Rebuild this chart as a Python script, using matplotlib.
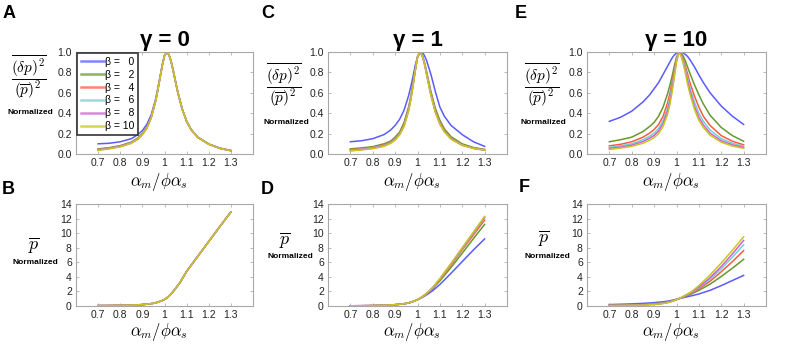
import matplotlib
matplotlib.use('Agg')
import matplotlib.pyplot as plt
import numpy as np

plt.rcParams['font.family'] = ['Liberation Sans', 'DejaVu Sans']
plt.rcParams['mathtext.fontset'] = 'cm'

##### data #####
betas = [0, 2, 4, 6, 8, 10]
colors = ['#5B5BFF', '#66992E', '#FF5A3C', '#6FD3D3', '#D25ED2', '#C9C51E']

# top row: normalized fluctuation spectrum
x_top = [0.70, 0.75, 0.80, 0.85, 0.88, 0.90, 0.92, 0.94, 0.96, 0.97, 0.98, 0.99, 1.00,
         1.01, 1.02, 1.03, 1.04, 1.05, 1.06, 1.08, 1.10, 1.12, 1.15, 1.20, 1.25, 1.30]

fluct_g0 = [
    [0.100, 0.105, 0.120, 0.150, 0.190, 0.230, 0.290, 0.385, 0.540, 0.645, 0.760, 0.875, 0.966,
     1.0, 0.975, 0.908, 0.812, 0.708, 0.608, 0.442, 0.322, 0.242, 0.166, 0.098, 0.058, 0.035],
    [0.050, 0.062, 0.082, 0.117, 0.157, 0.202, 0.260, 0.362, 0.523, 0.632, 0.751, 0.870, 0.964,
     1.0, 0.974, 0.906, 0.810, 0.706, 0.606, 0.440, 0.320, 0.240, 0.164, 0.096, 0.056, 0.033],
    [0.046, 0.058, 0.078, 0.113, 0.153, 0.198, 0.257, 0.360, 0.522, 0.631, 0.751, 0.870, 0.964,
     1.0, 0.974, 0.906, 0.810, 0.706, 0.606, 0.440, 0.320, 0.240, 0.164, 0.096, 0.056, 0.033],
    [0.042, 0.055, 0.075, 0.110, 0.150, 0.195, 0.254, 0.358, 0.521, 0.631, 0.750, 0.870, 0.964,
     1.0, 0.974, 0.906, 0.810, 0.706, 0.606, 0.440, 0.320, 0.240, 0.164, 0.096, 0.055, 0.032],
    [0.040, 0.053, 0.073, 0.107, 0.147, 0.192, 0.252, 0.357, 0.520, 0.630, 0.750, 0.870, 0.964,
     1.0, 0.974, 0.906, 0.810, 0.706, 0.606, 0.440, 0.320, 0.240, 0.164, 0.096, 0.055, 0.032],
    [0.035, 0.050, 0.070, 0.105, 0.145, 0.190, 0.250, 0.356, 0.520, 0.630, 0.750, 0.870, 0.964,
     1.0, 0.974, 0.906, 0.810, 0.706, 0.606, 0.440, 0.320, 0.240, 0.164, 0.096, 0.055, 0.032],
]
fluct_g1 = [
    [0.120, 0.130, 0.150, 0.190, 0.235, 0.280, 0.340, 0.430, 0.570, 0.660, 0.760, 0.870, 0.950,
     0.990, 1.0, 0.970, 0.920, 0.850, 0.780, 0.610, 0.460, 0.370, 0.280, 0.190, 0.120, 0.075],
    [0.050, 0.060, 0.072, 0.100, 0.127, 0.165, 0.215, 0.310, 0.460, 0.565, 0.695, 0.835, 0.953,
     1.0, 0.975, 0.909, 0.815, 0.713, 0.613, 0.448, 0.330, 0.247, 0.169, 0.099, 0.064, 0.045],
    [0.042, 0.052, 0.065, 0.090, 0.118, 0.150, 0.200, 0.290, 0.440, 0.545, 0.680, 0.825, 0.950,
     1.0, 0.973, 0.900, 0.800, 0.695, 0.590, 0.425, 0.310, 0.230, 0.155, 0.090, 0.058, 0.040],
    [0.037, 0.047, 0.060, 0.084, 0.112, 0.145, 0.195, 0.280, 0.430, 0.540, 0.675, 0.820, 0.948,
     1.0, 0.972, 0.897, 0.795, 0.687, 0.583, 0.415, 0.300, 0.222, 0.150, 0.087, 0.056, 0.039],
    [0.033, 0.043, 0.056, 0.079, 0.108, 0.140, 0.190, 0.275, 0.425, 0.535, 0.670, 0.818, 0.947,
     1.0, 0.971, 0.895, 0.790, 0.682, 0.578, 0.410, 0.296, 0.220, 0.148, 0.086, 0.055, 0.038],
    [0.030, 0.040, 0.052, 0.075, 0.105, 0.137, 0.188, 0.270, 0.420, 0.530, 0.665, 0.815, 0.946,
     1.0, 0.971, 0.894, 0.789, 0.678, 0.574, 0.407, 0.293, 0.217, 0.146, 0.085, 0.055, 0.038],
]
fluct_g10 = [
    [0.320, 0.360, 0.420, 0.510, 0.580, 0.640, 0.700, 0.780, 0.860, 0.900, 0.940, 0.970, 0.990,
     1.0, 1.0, 0.990, 0.975, 0.955, 0.925, 0.855, 0.775, 0.700, 0.600, 0.470, 0.370, 0.290],
    [0.120, 0.140, 0.165, 0.220, 0.270, 0.310, 0.370, 0.460, 0.590, 0.670, 0.760, 0.860, 0.950,
     1.0, 0.990, 0.960, 0.910, 0.850, 0.790, 0.680, 0.580, 0.490, 0.380, 0.260, 0.180, 0.125],
    [0.080, 0.095, 0.120, 0.165, 0.205, 0.240, 0.290, 0.370, 0.500, 0.590, 0.700, 0.820, 0.930,
     1.0, 0.980, 0.930, 0.860, 0.780, 0.700, 0.570, 0.460, 0.370, 0.280, 0.180, 0.125, 0.090],
    [0.065, 0.080, 0.100, 0.140, 0.175, 0.205, 0.250, 0.330, 0.450, 0.540, 0.660, 0.790, 0.920,
     1.0, 0.975, 0.910, 0.830, 0.740, 0.650, 0.510, 0.400, 0.320, 0.235, 0.150, 0.105, 0.075],
    [0.055, 0.068, 0.087, 0.122, 0.155, 0.182, 0.225, 0.300, 0.420, 0.510, 0.630, 0.770, 0.910,
     1.0, 0.970, 0.900, 0.810, 0.710, 0.620, 0.470, 0.360, 0.285, 0.205, 0.130, 0.090, 0.065],
    [0.045, 0.058, 0.075, 0.105, 0.135, 0.160, 0.200, 0.270, 0.390, 0.480, 0.600, 0.750, 0.900,
     1.0, 0.965, 0.890, 0.790, 0.680, 0.590, 0.440, 0.330, 0.260, 0.185, 0.115, 0.078, 0.055],
]

# bottom row: normalized mean
x_bot = [0.70, 0.75, 0.80, 0.85, 0.90, 0.93, 0.95, 0.97, 0.99, 1.00,
         1.01, 1.02, 1.03, 1.05, 1.07, 1.10, 1.15, 1.20, 1.25, 1.30]

mean_b_g0 = [0.05, 0.06, 0.08, 0.12, 0.19, 0.28, 0.37, 0.52, 0.75, 0.90,
             1.10, 1.36, 1.66, 2.40, 3.22, 4.75, 6.80, 8.85, 10.90, 12.90]
mean_g0 = [mean_b_g0 for b in betas]   # all six curves coincide
mean_g1 = [
    [0.02, 0.03, 0.05, 0.09, 0.17, 0.26, 0.35, 0.50, 0.72, 0.85,
     1.00, 1.16, 1.33, 1.72, 2.15, 2.95, 4.50, 6.10, 7.70, 9.20],
    [0.03, 0.04, 0.06, 0.10, 0.18, 0.27, 0.36, 0.51, 0.73, 0.87,
     1.03, 1.22, 1.42, 1.90, 2.45, 3.45, 5.30, 7.25, 9.25, 11.20],
    [0.03, 0.04, 0.06, 0.10, 0.18, 0.27, 0.36, 0.51, 0.74, 0.87,
     1.04, 1.23, 1.45, 1.95, 2.55, 3.62, 5.62, 7.70, 9.75, 11.80],
    [0.03, 0.04, 0.06, 0.10, 0.18, 0.27, 0.36, 0.51, 0.74, 0.88,
     1.04, 1.24, 1.46, 1.97, 2.58, 3.69, 5.74, 7.86, 9.98, 12.10],
    [0.03, 0.04, 0.06, 0.10, 0.18, 0.27, 0.36, 0.51, 0.74, 0.88,
     1.05, 1.25, 1.47, 1.99, 2.60, 3.72, 5.80, 7.93, 10.07, 12.20],
    [0.03, 0.04, 0.06, 0.10, 0.18, 0.27, 0.36, 0.51, 0.74, 0.88,
     1.05, 1.25, 1.47, 2.00, 2.62, 3.75, 5.85, 8.00, 10.15, 12.30],
]
mean_g10 = [
    [0.20, 0.24, 0.29, 0.36, 0.46, 0.55, 0.62, 0.72, 0.85, 0.93,
     1.00, 1.07, 1.14, 1.28, 1.42, 1.65, 2.15, 2.80, 3.50, 4.20],
    [0.10, 0.12, 0.16, 0.22, 0.32, 0.42, 0.50, 0.62, 0.79, 0.90,
     1.00, 1.10, 1.21, 1.45, 1.71, 2.15, 3.00, 4.05, 5.20, 6.40],
    [0.08, 0.10, 0.13, 0.18, 0.28, 0.37, 0.46, 0.58, 0.77, 0.89,
     1.00, 1.12, 1.25, 1.53, 1.84, 2.35, 3.40, 4.70, 6.10, 7.60],
    [0.07, 0.085, 0.11, 0.16, 0.25, 0.34, 0.43, 0.56, 0.76, 0.88,
     1.00, 1.13, 1.27, 1.58, 1.92, 2.50, 3.68, 5.10, 6.70, 8.40],
    [0.06, 0.075, 0.10, 0.145, 0.23, 0.32, 0.41, 0.545, 0.75, 0.875,
     1.00, 1.14, 1.29, 1.62, 1.98, 2.60, 3.88, 5.42, 7.15, 9.00],
    [0.05, 0.065, 0.09, 0.13, 0.21, 0.30, 0.39, 0.53, 0.74, 0.87,
     1.00, 1.15, 1.31, 1.66, 2.04, 2.80, 4.25, 5.90, 7.65, 9.50],
]

gammas = ['0', '1', '10']
xticks = [0.7, 0.8, 0.9, 1.0, 1.1, 1.2, 1.3]
xticklabels = ['0.7', '0.8', '0.9', '1', '1.1', '1.2', '1.3']

W, H = 785, 346
fig = plt.figure(figsize=(7.85, 3.46), dpi=100)

lefts = [76, 328, 587]
widths = [177, 179, 179]

def px_ax(l, t, w, h):
    return fig.add_axes([l / W, 1 - (t + h) / H, w / W, h / H])

def style(ax):
    for s in ax.spines.values():
        s.set_color('#a8a8a8')
        s.set_linewidth(0.8)
    ax.tick_params(direction='in', length=2.5, width=0.6, color='#b0b0b0',
                   top=True, right=True, labelsize=7.5, pad=3, labelcolor='#222222')
    ax.set_xlim(0.6, 1.4)
    ax.set_xticks(xticks)
    ax.set_xticklabels(xticklabels)

top_data = [fluct_g0, fluct_g1, fluct_g10]
bot_data = [mean_g0, mean_g1, mean_g10]

for i in range(3):
    ax = px_ax(lefts[i], 52, widths[i], 102)
    for j, b in enumerate(betas):
        ax.plot(x_top, top_data[i][j], color=colors[j], lw=1.1,
                label=r'β = ' + ('  ' if b < 10 else '') + str(b))
    style(ax)
    ax.set_ylim(0, 1.0)
    ax.set_yticks([0, 0.2, 0.4, 0.6, 0.8, 1.0])
    ax.set_yticklabels(['0.0', '0.2', '0.4', '0.6', '0.8', '1.0'])
    ax.set_title('γ = ' + gammas[i], fontsize=16, fontweight='bold', pad=4)
    if i == 0:
        leg = ax.legend(loc='upper left', fontsize=7.5, handlelength=2.2,
                        handletextpad=0.1, labelspacing=0.28, borderpad=0.35,
                        borderaxespad=0.1, fancybox=False, framealpha=1)
        leg.get_frame().set_edgecolor('#333333')
        leg.get_frame().set_linewidth(1.2)
        for ln in leg.get_lines():
            ln.set_linewidth(1.8)
            ln.set_alpha(0.75)

    ax2 = px_ax(lefts[i], 204, widths[i], 102)
    for j, b in enumerate(betas):
        ax2.plot(x_bot, bot_data[i][j], color=colors[j], lw=1.1)
    style(ax2)
    ax2.set_ylim(0, 14)
    ax2.set_yticks(range(0, 15, 2))

# axis labels
xl = r'$\alpha_m/\phi\alpha_s$'
frac = r'$\dfrac{\overline{(\delta p)^2}}{(\overline{p})^2}$'
for i in range(3):
    cx = (lefts[i] + widths[i] / 2 - 6) / W
    fig.text(cx, 1 - 182 / H, xl, ha='center', va='center', fontsize=12)
    fig.text(cx, 1 - 332 / H, xl, ha='center', va='center', fontsize=12)

fr_pos = [(29, 77, 30, 113), (284, 85, 286, 122), (542, 85, 543, 122)]
for fx, fy, nx, ny in fr_pos:
    fig.text(fx / W, 1 - fy / H, frac, ha='center', va='center', fontsize=11)
    fig.text(nx / W, 1 - ny / H, 'Normalized', ha='center', va='center',
             fontsize=6, fontweight='bold')

pb_pos = [(34, 245, 35, 262), (285, 240, 290, 256), (544, 238, 547, 256)]
for fx, fy, nx, ny in pb_pos:
    fig.text(fx / W, 1 - fy / H, r'$\overline{p}$', ha='center', va='center', fontsize=13)
    fig.text(nx / W, 1 - ny / H, 'Normalized', ha='center', va='center',
             fontsize=6, fontweight='bold')

# panel letters
for lab, x, y in [('A', 3, 14), ('B', 2, 190), ('C', 261, 14), ('D', 261, 190),
                  ('E', 515, 14), ('F', 519, 188)]:
    fig.text(x / W, 1 - y / H, lab, ha='left', va='center', fontsize=13, fontweight='bold')

fig.savefig('out.png', dpi=100)
